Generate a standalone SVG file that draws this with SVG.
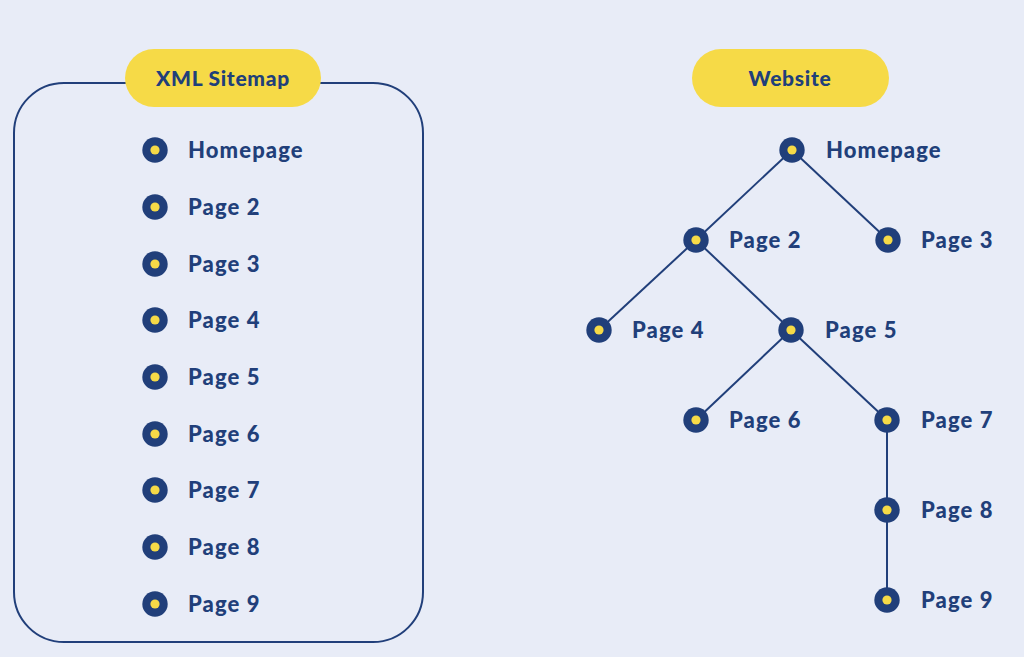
<svg xmlns="http://www.w3.org/2000/svg" width="1024" height="657" viewBox="0 0 1024 657">
<defs>
<style>
.bg{fill:#E8ECF7}
.pill{fill:#F6DA47}
.pt{font-family:"Lato","Liberation Sans",sans-serif;font-weight:900;font-size:21px;fill:#213F7A;text-anchor:middle;letter-spacing:0.7px}
.lbl{font-family:"Lato","Liberation Sans",sans-serif;font-weight:900;font-size:22px;fill:#213F7A;letter-spacing:1.1px}
.dot{fill:#213F7A}
.in{fill:#F6DA47}
.ln{stroke:#213F7A;stroke-width:2;fill:none}
</style>
<g id="bullet"><circle class="dot" r="12.7"/><circle class="in" r="4.6"/></g>
</defs>
<rect class="bg" width="1024" height="657"/>
<g id="sitemap">
<rect class="ln" x="14" y="83" width="409" height="559" rx="50"/>
<rect class="pill" x="125" y="49" width="196" height="58" rx="29"/>
<text class="pt" x="223" y="86">XML Sitemap</text>
</g>
<g id="list">
<g id="l1"><use href="#bullet" x="155" y="150"/><text class="lbl" x="188" y="158">Homepage</text></g>
<g id="l2"><use href="#bullet" x="155" y="207"/><text class="lbl" x="188" y="215">Page 2</text></g>
<g id="l3"><use href="#bullet" x="155" y="264"/><text class="lbl" x="188" y="272">Page 3</text></g>
<g id="l4"><use href="#bullet" x="155" y="320"/><text class="lbl" x="188" y="328">Page 4</text></g>
<g id="l5"><use href="#bullet" x="155" y="377"/><text class="lbl" x="188" y="385">Page 5</text></g>
<g id="l6"><use href="#bullet" x="155" y="434"/><text class="lbl" x="188" y="442">Page 6</text></g>
<g id="l7"><use href="#bullet" x="155" y="490"/><text class="lbl" x="188" y="498">Page 7</text></g>
<g id="l8"><use href="#bullet" x="155" y="547"/><text class="lbl" x="188" y="555">Page 8</text></g>
<g id="l9"><use href="#bullet" x="155" y="604"/><text class="lbl" x="188" y="612">Page 9</text></g>
</g>
<g id="website">
<rect class="pill" x="692" y="49" width="197" height="58" rx="29"/>
<text class="pt" x="790" y="86">Website</text>
</g>
<g id="connectors">
<line class="ln" x1="792" y1="150" x2="696" y2="240"/>
<line class="ln" x1="792" y1="150" x2="888" y2="240"/>
<line class="ln" x1="696" y1="240" x2="599" y2="330"/>
<line class="ln" x1="696" y1="240" x2="791" y2="330"/>
<line class="ln" x1="791" y1="330" x2="696" y2="420"/>
<line class="ln" x1="791" y1="330" x2="887" y2="420"/>
<line class="ln" x1="887" y1="420" x2="887" y2="600"/>
</g>
<g id="t-home"><use href="#bullet" x="792" y="150"/><text class="lbl" x="826" y="158">Homepage</text></g>
<g id="t-p2"><use href="#bullet" x="696" y="240"/><text class="lbl" x="729" y="248">Page 2</text></g>
<g id="t-p3"><use href="#bullet" x="888" y="240"/><text class="lbl" x="921" y="248">Page 3</text></g>
<g id="t-p4"><use href="#bullet" x="599" y="330"/><text class="lbl" x="632" y="338">Page 4</text></g>
<g id="t-p5"><use href="#bullet" x="791" y="330"/><text class="lbl" x="825" y="338">Page 5</text></g>
<g id="t-p6"><use href="#bullet" x="696" y="420"/><text class="lbl" x="729" y="428">Page 6</text></g>
<g id="t-p7"><use href="#bullet" x="887" y="420"/><text class="lbl" x="921" y="428">Page 7</text></g>
<g id="t-p8"><use href="#bullet" x="887" y="510"/><text class="lbl" x="921" y="518">Page 8</text></g>
<g id="t-p9"><use href="#bullet" x="887" y="600"/><text class="lbl" x="921" y="608">Page 9</text></g>
</svg>
